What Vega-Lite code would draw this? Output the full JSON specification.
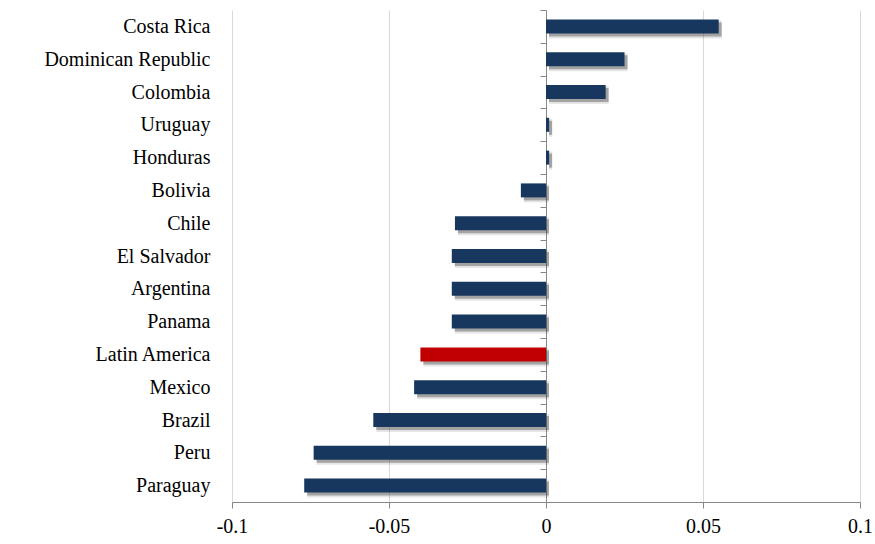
{
  "$schema": "https://vega.github.io/schema/vega-lite/v6.json",
  "width": 628,
  "height": 492,
  "autosize": {"type": "none"},
  "padding": {"left": 232, "top": 10, "right": 15, "bottom": 42},
  "background": "white",
  "config": {"view": {"stroke": null}, "font": "Liberation Serif"},
  "data": {"values": [
    {"country": "Costa Rica", "value": 0.055, "group": "country"},
    {"country": "Dominican Republic", "value": 0.025, "group": "country"},
    {"country": "Colombia", "value": 0.019, "group": "country"},
    {"country": "Uruguay", "value": 0.001, "group": "country"},
    {"country": "Honduras", "value": 0.001, "group": "country"},
    {"country": "Bolivia", "value": -0.008, "group": "country"},
    {"country": "Chile", "value": -0.029, "group": "country"},
    {"country": "El Salvador", "value": -0.030, "group": "country"},
    {"country": "Argentina", "value": -0.030, "group": "country"},
    {"country": "Panama", "value": -0.030, "group": "country"},
    {"country": "Latin America", "value": -0.040, "group": "region"},
    {"country": "Mexico", "value": -0.042, "group": "country"},
    {"country": "Brazil", "value": -0.055, "group": "country"},
    {"country": "Peru", "value": -0.074, "group": "country"},
    {"country": "Paraguay", "value": -0.077, "group": "country"}
  ]},
  "encoding": {
    "y": {
      "field": "country", "type": "nominal", "sort": null,
      "scale": {"padding": 0},
      "axis": {
        "title": null, "offset": -314, "labelPadding": 330, "tickBand": "extent",
        "tickSize": 6, "tickColor": "#868686", "domainColor": "#868686",
        "labelFontSize": 20, "labelColor": "#000000", "labelFont": "Liberation Serif", "grid": false
      }
    },
    "x": {
      "field": "value", "type": "quantitative",
      "scale": {"domain": [-0.1, 0.1], "nice": false, "zero": false},
      "axis": {
        "title": null, "values": [-0.1, -0.05, 0, 0.05, 0.1], "labelExpr": "datum.value + ''",
        "tickSize": 6, "tickColor": "#868686", "domainColor": "#868686",
        "gridColor": "#d9d9d9", "labelFontSize": 20, "labelColor": "#000000",
        "labelPadding": 8, "labelFont": "Liberation Serif", "labelFlush": false
      }
    }
  },
  "layer": [
    {"mark": {"type": "bar", "size": 18, "color": "#000000", "opacity": 0.1, "xOffset": 3, "yOffset": 3}},
    {"mark": {"type": "bar", "size": 14, "color": "#404040", "opacity": 0.4, "xOffset": 3, "yOffset": 3}},
    {
      "mark": {"type": "bar", "size": 14},
      "encoding": {
        "color": {"field": "group", "type": "nominal", "legend": null,
          "scale": {"domain": ["country", "region"], "range": ["#17375E", "#C00000"]}}
      }
    }
  ]
}
